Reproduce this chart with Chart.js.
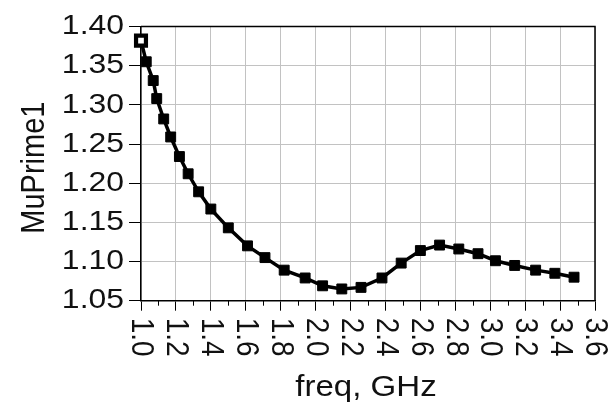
<!DOCTYPE html>
<html>
<head>
<meta charset="utf-8">
<script src="https://cdn.jsdelivr.net/npm/chart.js@4/dist/chart.umd.min.js"></script>
<style>
  html, body { margin: 0; padding: 0; background: #ffffff; }
  #wrap { width: 610px; height: 406px; position: relative; }
</style>
</head>
<body>
<div id="wrap"><canvas id="c" width="610" height="406"></canvas></div>
<script>
// ---- data ----
const freqGHz = [1.00, 1.03, 1.07, 1.09, 1.13, 1.17, 1.22, 1.27, 1.33, 1.40, 1.50, 1.61, 1.71, 1.82, 1.94,
                 2.04, 2.15, 2.26, 2.38, 2.49, 2.60, 2.71, 2.82, 2.93, 3.03, 3.14, 3.26, 3.37, 3.48];
const muPrime1 = [1.382, 1.355, 1.331, 1.308, 1.282, 1.259, 1.234, 1.212, 1.189, 1.167, 1.143, 1.120, 1.105, 1.089, 1.079,
                  1.069, 1.065, 1.067, 1.079, 1.098, 1.114, 1.121, 1.116, 1.110, 1.101, 1.095, 1.089, 1.085, 1.080];
const xTickValues = [1.0, 1.2, 1.4, 1.6, 1.8, 2.0, 2.2, 2.4, 2.6, 2.8, 3.0, 3.2, 3.4, 3.6];
const xTickLabels = ['1.0', '1.2', '1.4', '1.6', '1.8', '2.0', '2.2', '2.4', '2.6', '2.8', '3.0', '3.2', '3.4', '3.6'];
const xMinorValues = [1.1, 1.3, 1.5, 1.7, 1.9, 2.1, 2.3, 2.5, 2.7, 2.9, 3.1, 3.3, 3.5];
const yTickLabels = ['1.05', '1.10', '1.15', '1.20', '1.25', '1.30', '1.35', '1.40'];
const xTitle = 'freq, GHz';
const yTitle = 'MuPrime1';

const FONT = "'Liberation Sans', Arial, sans-serif";
const STRETCH = 1.14;   // the reference text is horizontally widened
const TEXT = '#111111';

const points = freqGHz.map((f, i) => ({ x: f, y: muPrime1[i] }));

const frameAndText = {
  id: 'frameAndText',
  afterDraw(chart) {
    const { ctx, chartArea: a, scales } = chart;
    const xs = scales.x, ys = scales.y;
    ctx.save();
    // frame (top and right)
    ctx.strokeStyle = '#000000';
    ctx.lineWidth = 1.5;
    ctx.beginPath();
    ctx.moveTo(a.left, a.top);
    ctx.lineTo(a.right, a.top);
    ctx.lineTo(a.right, a.bottom);
    ctx.stroke();
    // minor x ticks
    ctx.lineWidth = 1;
    ctx.beginPath();
    xMinorValues.forEach(v => {
      const px = Math.round(xs.getPixelForValue(v)) + 0.5;
      ctx.moveTo(px, a.bottom);
      ctx.lineTo(px, a.bottom + 5);
    });
    ctx.stroke();

    ctx.fillStyle = TEXT;
    // y tick labels
    ctx.font = '28px ' + FONT;
    ctx.textAlign = 'right';
    ctx.textBaseline = 'middle';
    yTickLabels.forEach(t => {
      const py = ys.getPixelForValue(parseFloat(t));
      ctx.save();
      ctx.translate(a.left - 17, py);
      ctx.scale(STRETCH, 1);
      ctx.fillText(t, 0, 0);
      ctx.restore();
    });
    // x tick labels, rotated clockwise
    ctx.textAlign = 'left';
    ctx.textBaseline = 'middle';
    xTickValues.forEach((v, i) => {
      const px = xs.getPixelForValue(v);
      ctx.save();
      ctx.translate(px, a.bottom + 17);
      ctx.scale(STRETCH, 1);
      ctx.rotate(Math.PI / 2);
      ctx.fillText(xTickLabels[i], 0, 0);
      ctx.restore();
    });
    // x title
    ctx.font = '29px ' + FONT;
    ctx.textAlign = 'center';
    ctx.textBaseline = 'alphabetic';
    ctx.save();
    ctx.translate((a.left + a.right) / 2 - 2, 396);
    ctx.scale(STRETCH, 1);
    ctx.fillText(xTitle, 0, 0);
    ctx.restore();
    // y title, rotated counter-clockwise
    ctx.save();
    ctx.translate(44, (a.top + a.bottom) / 2 + 4);
    ctx.scale(STRETCH, 1);
    ctx.rotate(-Math.PI / 2);
    ctx.fillText(yTitle, 0, 0);
    ctx.restore();
    ctx.restore();
  }
};

new Chart(document.getElementById('c'), {
  type: 'line',
  data: {
    datasets: [{
      label: yTitle,
      data: points,
      borderColor: '#000000',
      borderWidth: 3.5,
      tension: 0,
      clip: false,
      pointStyle: 'rect',
      pointRadius: 7,
      pointBorderWidth: ctx => ctx.dataIndex === 0 ? 4.2 : 1,
      pointBorderColor: '#000000',
      pointBackgroundColor: ctx => ctx.dataIndex === 0 ? '#ffffff' : '#000000',
      fill: false
    }]
  },
  options: {
    responsive: false,
    animation: false,
    layout: { padding: { left: 0, top: 26.5, right: 15, bottom: 0 } },
    plugins: { legend: { display: false }, tooltip: { enabled: false } },
    scales: {
      x: {
        type: 'linear',
        min: 1.0,
        max: 3.6,
        afterBuildTicks: s => { s.ticks = xTickValues.map(v => ({ value: v })); },
        afterFit: s => { s.height = 406 - 300.7; },
        ticks: { display: false },
        grid: { color: '#c2c2c2', lineWidth: 1, drawTicks: true, tickLength: 10, tickColor: '#000000' },
        border: { color: '#000000', width: 1.5 },
        title: { display: false }
      },
      y: {
        type: 'linear',
        min: 1.05,
        max: 1.40,
        afterBuildTicks: s => { s.ticks = yTickLabels.map(t => ({ value: parseFloat(t) })); },
        afterFit: s => { s.width = 141; },
        ticks: { display: false },
        grid: { color: '#c2c2c2', lineWidth: 1, drawTicks: true, tickLength: 12, tickColor: '#000000' },
        border: { color: '#000000', width: 1.5 },
        title: { display: false }
      }
    }
  },
  plugins: [frameAndText]
});
</script>
</body>
</html>
